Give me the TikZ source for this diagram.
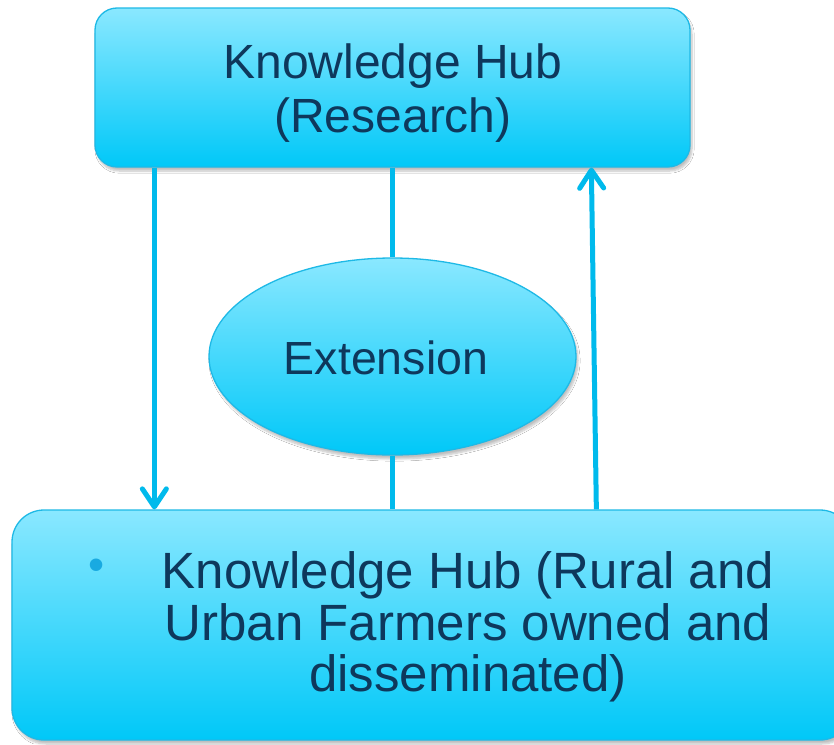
\documentclass[tikz,border=0pt]{standalone}
\usepackage{fontspec}
\setmainfont{Liberation Sans}
\usetikzlibrary{shapes.geometric,arrows.meta,shadows.blur}
\definecolor{txt}{RGB}{14,56,92}
\definecolor{edge}{RGB}{30,185,230}
\definecolor{lineblue}{RGB}{0,186,236}
\definecolor{gtop}{RGB}{138,232,255}
\definecolor{gbot}{RGB}{0,200,248}
\definecolor{bullet}{RGB}{25,170,225}
\tikzset{
  boxfill/.style={draw=edge, line width=1.3pt, top color=gtop, bottom color=gbot, middle color=gtop!50!gbot,
    blur shadow={shadow xshift=2pt, shadow yshift=-4pt, shadow blur steps=6, shadow opacity=25}},
  hubbox/.style={boxfill, rounded corners=22pt, inner sep=0pt},
  extell/.style={boxfill, ellipse, inner sep=0pt},
  conn/.style={draw=lineblue, line width=5pt},
  tip/.style={-{Straight Barb[length=18pt,width=24pt,line cap=round,line join=round]}},
}
\begin{document}
\begin{tikzpicture}[x=1pt,y=-1pt]
\clip (0,0) rectangle (834,744);
\useasboundingbox (0,0) rectangle (834,744);
\fill[white] (0,0) rectangle (834,744);
% nodes
\node[hubbox, minimum width=595pt, minimum height=159pt] (top) at (392.5,87.5) {};
\node[hubbox, rounded corners=32pt, minimum width=840pt, minimum height=230pt] (bot) at (432,625) {};
\node[extell, minimum width=367pt, minimum height=197pt] (ext) at (392.5,356.5) {};
% connectors
\draw[conn,tip] ([xshift=60pt]top.south west) -- ([xshift=143pt]bot.north west);
\draw[conn] (top.south) -- (ext.north);
\draw[conn] (ext.south) -- (ext.south |- bot.north);
\draw[conn,tip] ([xshift=585pt]bot.north west) -- ([xshift=497pt]top.south west);
% texts
\node[text=txt, align=center, font=\fontsize{48}{54}\selectfont] (toptext) at (393,93) {Knowledge Hub\\(Research)};
\node[text=txt, font=\fontsize{46.5}{56}\selectfont] (exttext) at (386,358) {Extension};
\node[text=txt, align=center, font=\fontsize{51}{51.5}\selectfont] (bottext) at (468,627)
  {Knowledge Hub (Rural and\\Urban Farmers owned and\\disseminated)};
\node[text=bullet, font=\fontsize{46}{46}\selectfont] (bul) at (97,570) {•};
\end{tikzpicture}
\end{document}
